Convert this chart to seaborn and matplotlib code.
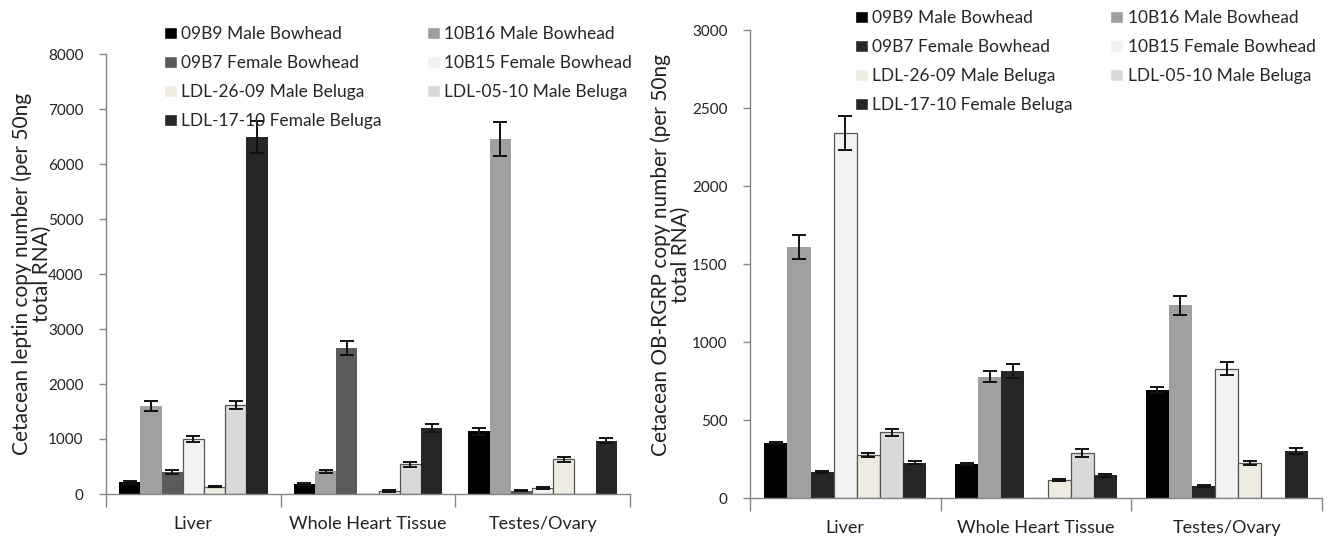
import numpy as np
import pandas as pd
import seaborn as sns
import matplotlib.pyplot as plt
from matplotlib.ticker import FixedLocator

# ---- data -------------------------------------------------------------
tissues = ["Liver", "Whole Heart Tissue", "Testes/Ovary"]
samples = [
    "09B9 Male Bowhead",
    "10B16 Male Bowhead",
    "09B7 Female Bowhead",
    "10B15 Female Bowhead",
    "LDL-26-09 Male Beluga",
    "LDL-05-10 Male Beluga",
    "LDL-17-10 Female Beluga",
]

# leptin copy number, one list per tissue (sample order as above)
leptin_liver = [210, 1600, 400, 1000, 130, 1620, 6490]
leptin_heart = [180, 410, 2660, 0, 60, 540, 1200]
leptin_testes = [1140, 6450, 60, 110, 630, 0, 970]
leptin_err_liver = [20, 90, 40, 60, 8, 80, 290]
leptin_err_heart = [15, 20, 130, 0, 15, 50, 70]
leptin_err_testes = [60, 310, 10, 20, 50, 0, 40]

# OB-RGRP copy number
obrgrp_liver = [350, 1610, 165, 2340, 275, 420, 227]
obrgrp_heart = [216, 777, 812, 0, 115, 290, 145]
obrgrp_testes = [690, 1235, 75, 830, 225, 0, 300]
obrgrp_err_liver = [6, 75, 6, 110, 15, 22, 10]
obrgrp_err_heart = [6, 35, 45, 0, 8, 25, 8]
obrgrp_err_testes = [20, 60, 6, 40, 15, 0, 20]

leptin_colors = ["#000000", "#a0a0a0", "#5a5a5a", "#f2f2f2", "#eeece1", "#d9d9d9", "#262626"]
obrgrp_colors = ["#000000", "#a0a0a0", "#262626", "#f2f2f2", "#eeece1", "#d9d9d9", "#262626"]

leptin_ticks = [0, 1000, 2000, 3000, 4000, 5000, 6000, 7000, 8000]
obrgrp_ticks = [0, 500, 1000, 1500, 2000, 2500, 3000]


def long_table(values, errors):
    rows = []
    for t, vals, errs in zip(tissues, values, errors):
        for s, v, e in zip(samples, vals, errs):
            rows.append({"tissue": t, "sample": s, "value": v, "err": e})
    return pd.DataFrame(rows)


leptin_df = long_table([leptin_liver, leptin_heart, leptin_testes],
                       [leptin_err_liver, leptin_err_heart, leptin_err_testes])
obrgrp_df = long_table([obrgrp_liver, obrgrp_heart, obrgrp_testes],
                       [obrgrp_err_liver, obrgrp_err_heart, obrgrp_err_testes])

# ---- style ------------------------------------------------------------
sns.set_theme(style="white")
plt.rcParams["font.family"] = ["Lato", "DejaVu Sans"]
AX_GREY = "#868686"
TEXT = "#222222"

fig = plt.figure(figsize=(13.28, 5.4), dpi=100)
ax_l = fig.add_axes([106 / 1328, 1 - 494 / 540, 524 / 1328, 440 / 540])
ax_r = fig.add_axes([750 / 1328, 1 - 498 / 540, 572 / 1328, 468 / 540])


def draw(ax, df, colors, ticks, ylabel, label_xy, legend_anchor, col_gap):
    sns.barplot(data=df, x="tissue", y="value", hue="sample", order=tissues,
                hue_order=samples, palette=colors, errorbar=None, width=0.85,
                saturation=1, ax=ax)
    # outline the pale bars
    for cont, col in zip(ax.containers, colors):
        pale = np.mean(plt.matplotlib.colors.to_rgb(col)) > 0.8
        for bar in cont:
            if pale:
                bar.set_edgecolor("#555555")
                bar.set_linewidth(0.9)
            else:
                bar.set_edgecolor("none")
    # error bars from the table
    for cont, s in zip(ax.containers, samples):
        sub = df[df["sample"] == s].set_index("tissue").loc[tissues]
        for bar, (v, e) in zip(cont, sub[["value", "err"]].to_numpy()):
            if v <= 0:
                continue
            ax.errorbar(bar.get_x() + bar.get_width() / 2, v, yerr=e,
                        fmt="none", ecolor="#111111", elinewidth=1.4,
                        capsize=5, capthick=1.4)

    ax.set_ylim(ticks[0], ticks[-1])
    ax.set_xlim(-0.5, len(tissues) - 0.5)
    ax.set_yticks(ticks)
    ax.set_yticklabels([str(t) for t in ticks], fontsize=11, color=TEXT)
    ax.set_xlabel("")
    ax.set_ylabel(ylabel, fontsize=15, color=TEXT, linespacing=0.95)
    ax.yaxis.set_label_coords(*label_xy)
    ax.tick_params(axis="x", which="major", length=0, pad=16, labelsize=13,
                   labelcolor=TEXT)
    ax.xaxis.set_minor_locator(FixedLocator([-0.5, 0.5, 1.5, 2.5]))
    ax.tick_params(axis="x", which="minor", length=9, width=1, color=AX_GREY,
                   direction="out", bottom=True)
    ax.tick_params(axis="y", length=5, width=1, color=AX_GREY, direction="out",
                   left=True, pad=11)
    for side in ("top", "right"):
        ax.spines[side].set_visible(False)
    for side in ("left", "bottom"):
        ax.spines[side].set_color(AX_GREY)
        ax.spines[side].set_linewidth(1)

    handles, labels = ax.get_legend_handles_labels()
    order = [0, 2, 4, 6, 1, 3, 5]
    ax.legend([handles[i] for i in order], [labels[i] for i in order],
              ncol=2, loc="upper left", bbox_to_anchor=legend_anchor,
              bbox_transform=fig.transFigure, frameon=False, fontsize=12.5,
              handlelength=0.75, handleheight=0.75, handletextpad=0.25,
              labelspacing=0.75, columnspacing=col_gap, borderpad=0,
              borderaxespad=0)


draw(ax_l, leptin_df, leptin_colors, leptin_ticks,
     "Cetacean leptin copy number (per 50ng\ntotal RNA)",
     (-0.104, 0.50), (164 / 1328, 1 - 26 / 540), 2.6)
draw(ax_r, obrgrp_df, obrgrp_colors, obrgrp_ticks,
     "Cetacean OB-RGRP copy number (per 50ng\ntotal RNA)",
     (-0.104, 0.52), (855 / 1328, 1 - 10 / 540), 2.15)

fig.savefig("out.png", dpi=100)
